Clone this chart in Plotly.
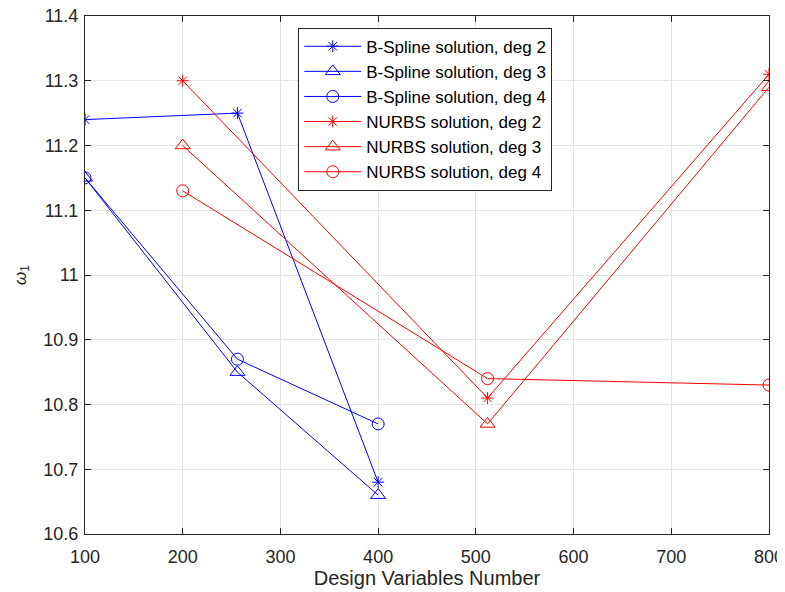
import plotly.graph_objects as go

bspline_x = [100, 256, 400]
nurbs_x = [200, 512, 800]
bspline_deg2 = [11.24, 11.25, 10.68]
bspline_deg3 = [11.15, 10.85, 10.66]
bspline_deg4 = [11.15, 10.87, 10.77]
nurbs_deg2 = [11.30, 10.81, 11.31]
nurbs_deg3 = [11.20, 10.77, 11.29]
nurbs_deg4 = [11.13, 10.84, 10.83]

x_ticks = [100, 200, 300, 400, 500, 600, 700, 800]
y_ticks = [10.6, 10.7, 10.8, 10.9, 11.0, 11.1, 11.2, 11.3, 11.4]
y_ticktext = ["10.6", "10.7", "10.8", "10.9", "11", "11.1", "11.2", "11.3", "11.4"]

series = [
    ("B-Spline solution, deg 2", bspline_x, bspline_deg2, "#0000ff", "asterisk-open", 10),
    ("B-Spline solution, deg 3", bspline_x, bspline_deg3, "#0000ff", "triangle-up-open", 13),
    ("B-Spline solution, deg 4", bspline_x, bspline_deg4, "#0000ff", "circle-open", 12),
    ("NURBS solution, deg 2", nurbs_x, nurbs_deg2, "#ff0000", "asterisk-open", 10),
    ("NURBS solution, deg 3", nurbs_x, nurbs_deg3, "#ff0000", "triangle-up-open", 13),
    ("NURBS solution, deg 4", nurbs_x, nurbs_deg4, "#ff0000", "circle-open", 12),
]

FONT = "Liberation Sans, Arial, Helvetica, sans-serif"

fig = go.Figure()
for name, xs, ys, color, sym, sz in series:
    fig.add_trace(go.Scatter(
        x=xs, y=ys, name=name, mode="lines+markers",
        line=dict(color=color, width=1),
        marker=dict(symbol=sym, size=sz, color=color, line=dict(color=color, width=1)),
    ))

axis_common = dict(
    showgrid=True, gridcolor="#e3e3e3", gridwidth=1,
    showline=True, linecolor="#262626", linewidth=1, mirror="ticks",
    ticks="inside", ticklen=6, tickcolor="#262626", tickwidth=1,
    zeroline=False, automargin=False, ticklabeloverflow="allow",
    tickfont=dict(family=FONT, size=18, color="#262626"),
)

# page body has an 8px margin, so the figure is 8px smaller and shifted
fig.update_layout(
    width=777, height=584,
    margin=dict(l=77, r=16, t=8, b=58),
    paper_bgcolor="white", plot_bgcolor="white",
    font=dict(family=FONT, color="#262626"),
    xaxis=dict(range=[100, 800], tickvals=x_ticks, ticktext=[str(v) for v in x_ticks],
               ticklabelstandoff=6,
               title=dict(text="Design Variables Number", font=dict(size=20, color="#262626"), standoff=4),
               **axis_common),
    yaxis=dict(range=[10.6, 11.4], tickvals=y_ticks, ticktext=y_ticktext,
               ticklabelstandoff=2,
               title=dict(text="<i>ω</i><sub>1</sub>", font=dict(size=17, color="#262626"), standoff=12),
               **axis_common),
    legend=dict(x=0.3118, y=0.9774, xanchor="left", yanchor="top",
                bgcolor="white", bordercolor="#262626", borderwidth=1,
                font=dict(family=FONT, size=17, color="#000000"), tracegroupgap=0,
                itemwidth=57),
    showlegend=True,
)

fig.write_html("out.html")
